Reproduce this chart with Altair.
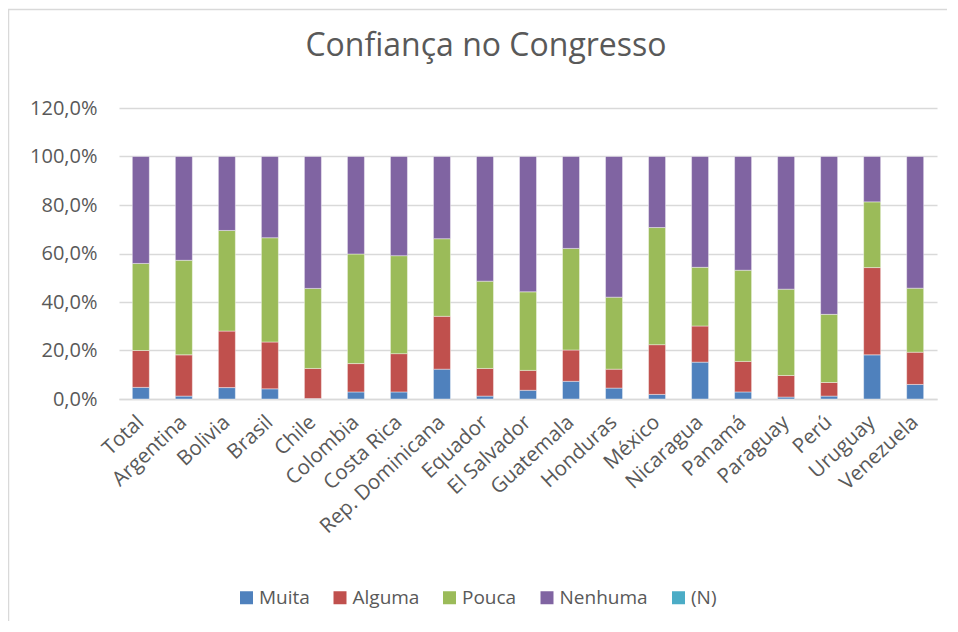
import altair as alt
import pandas as pd

countries = ["Total", "Argentina", "Bolivia", "Brasil", "Chile", "Colombia", "Costa Rica",
             "Rep. Dominicana", "Equador", "El Salvador", "Guatemala", "Honduras", "México",
             "Nicaragua", "Panamá", "Paraguay", "Perú", "Uruguay", "Venezuela"]

series = ["Muita", "Alguma", "Pouca", "Nenhuma", "(N)"]
colors = ["#4F81BD", "#C0504D", "#9BBB59", "#8064A2", "#4BACC6"]

muita = [4.8, 1.2, 4.7, 4.2, 0.2, 2.9, 2.9, 12.3, 1.2, 3.6, 7.3, 4.5, 1.9, 15.2, 2.9, 0.8, 1.2, 18.2, 6.0]
alguma = [15.2, 17.0, 23.3, 19.3, 12.4, 11.7, 15.8, 21.8, 11.4, 8.2, 12.9, 7.8, 20.5, 14.9, 12.6, 8.9, 5.6, 36.0, 13.3]
pouca = [35.9, 39.0, 41.5, 43.0, 33.0, 45.2, 40.4, 32.0, 36.0, 32.4, 41.9, 29.7, 48.3, 24.2, 37.6, 35.6, 28.1, 27.1, 26.4]
nenhuma = [44.1, 42.8, 30.5, 33.5, 54.4, 40.2, 40.9, 33.9, 51.4, 55.8, 37.9, 58.0, 29.3, 45.7, 46.9, 54.7, 65.1, 18.7, 54.3]

y_ticks = [0, 0.2, 0.4, 0.6, 0.8, 1.0, 1.2]

rows = []
for si, (name, vals) in enumerate(zip(series[:4], [muita, alguma, pouca, nenhuma])):
    for c, v in zip(countries, vals):
        rows.append({"country": c, "serie": name, "value": v / 100.0, "idx": si})
df = pd.DataFrame(rows)

FONT = "Open Sans"
GRAY = "#595959"
GRID = "#d9d9d9"

border = alt.Chart(pd.DataFrame({"a": [0]})).mark_rect(
    fill="transparent", stroke=GRID, strokeWidth=1.5
).encode(
    x=alt.value(-110.5), x2=alt.value(900), y=alt.value(-98.5), y2=alt.value(620)
)

bars = alt.Chart(df).mark_bar(stroke="white", strokeWidth=0.8, strokeOpacity=0.5).encode(
    x=alt.X("country:N", sort=countries, title=None,
            scale=alt.Scale(paddingInner=0.605, paddingOuter=0.31),
            axis=alt.Axis(labelAngle=-43, labelAlign="right", labelBaseline="middle",
                          labelPadding=20, ticks=False, domain=True, domainColor=GRID,
                          domainWidth=1.5, labelFontSize=20.5, labelFont=FONT,
                          labelColor=GRAY, grid=False)),
    y=alt.Y("value:Q", stack="zero", title=None,
            scale=alt.Scale(domain=[0, 1.2], nice=False),
            axis=alt.Axis(values=y_ticks,
                          labelExpr="replace(format(datum.value, '.1%'), '.', ',')",
                          grid=True, gridColor=GRID, gridWidth=1.5, domain=False,
                          ticks=False, labelFontSize=20, labelFont=FONT,
                          labelColor=GRAY, labelPadding=22)),
    color=alt.Color("serie:N", scale=alt.Scale(domain=series, range=colors),
                    legend=alt.Legend(orient="none", legendX=118, legendY=480,
                                      direction="horizontal", columns=5,
                                      symbolType="square", symbolSize=169,
                                      symbolStrokeWidth=0, labelFontSize=19,
                                      labelFont=FONT, labelColor=GRAY,
                                      columnPadding=20.5, labelOffset=3,
                                      title=None, padding=0)),
    order=alt.Order("idx:Q", sort="ascending"),
)

chart = alt.layer(border, bars).properties(
    width=818, height=291,
    padding={"left": 111, "top": 100, "right": 10, "bottom": 222},
    autosize=alt.AutoSizeParams(type="none"),
    title=alt.TitleParams("Confiança no Congresso", fontSize=32, font=FONT,
                          color=GRAY, fontWeight="normal", anchor="middle",
                          baseline="alphabetic", dx=-42, dy=79, offset=0),
).configure_view(stroke=None)

chart.save("out.html", embed_options={"renderer": "svg", "actions": False})
